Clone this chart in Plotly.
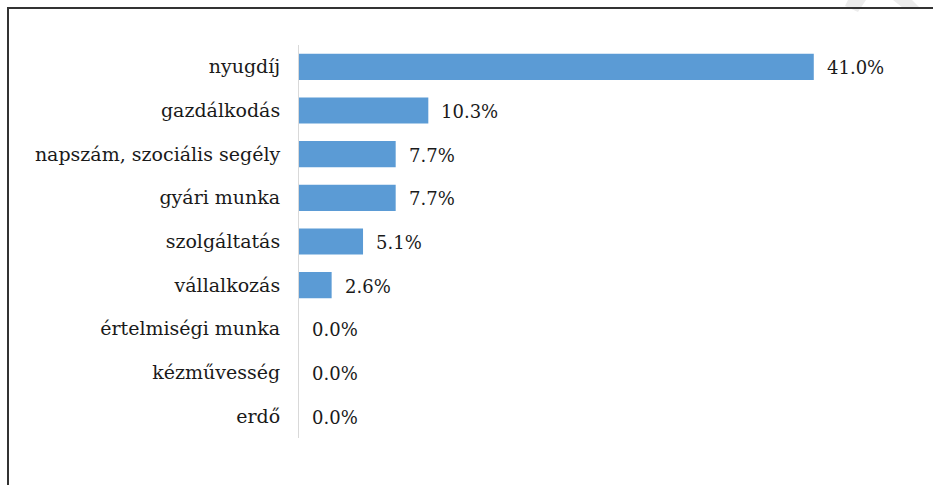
import plotly.graph_objects as go

# Income sources, top to bottom, with their shares (%)
categories = [
    "nyugdíj",
    "gazdálkodás",
    "napszám, szociális segély",
    "gyári munka",
    "szolgáltatás",
    "vállalkozás",
    "értelmiségi munka",
    "kézművesség",
    "erdő",
]
shares = [41.0, 10.3, 7.7, 7.7, 5.1, 2.6, 0.0, 0.0, 0.0]
value_labels = [f"{v:.1f}%" for v in shares]

FONT = "Georgia, 'DejaVu Serif', serif"
TEXT_COLOR = "#1a1a1a"
BAR_COLOR = "#5B9BD5"

W, H = 933, 485
M_L, M_R, M_T, M_B = 299, 69, 45, 47
PW, PH = W - M_L - M_R, H - M_T - M_B


def px_to_paper_x(px):
    return (px - M_L) / PW


def px_to_paper_y(py):
    return 1 - (py - M_T) / PH


fig = go.Figure(
    go.Bar(
        x=shares,
        y=categories,
        orientation="h",
        marker=dict(color=BAR_COLOR, line=dict(width=0)),
        width=0.6,
        hoverinfo="x+y",
    )
)

# value labels to the right of each bar
for cat, v, lab in zip(categories, shares, value_labels):
    fig.add_annotation(
        x=v, y=cat, text=lab, showarrow=False,
        xanchor="left", xshift=11, yshift=-1,
        font=dict(family=FONT, size=18, color=TEXT_COLOR),
    )

shapes = [
    # frame around the chart
    dict(type="rect", xref="paper", yref="paper",
         x0=px_to_paper_x(8), x1=px_to_paper_x(960),
         y0=px_to_paper_y(520), y1=px_to_paper_y(8),
         line=dict(color="#333333", width=2), fillcolor="rgba(0,0,0,0)", layer="above"),
    # faint watermark strokes in the top-right corner
    dict(type="path", xref="paper", yref="paper",
         path=(f"M {px_to_paper_x(848)} {px_to_paper_y(0)} L {px_to_paper_x(866)} {px_to_paper_y(0)} "
               f"L {px_to_paper_x(858)} {px_to_paper_y(12)} L {px_to_paper_x(845)} {px_to_paper_y(6)} Z"),
         fillcolor="#ececec", line=dict(width=0), layer="below"),
    dict(type="path", xref="paper", yref="paper",
         path=(f"M {px_to_paper_x(893)} {px_to_paper_y(0)} L {px_to_paper_x(912)} {px_to_paper_y(0)} "
               f"L {px_to_paper_x(920)} {px_to_paper_y(8)} L {px_to_paper_x(903)} {px_to_paper_y(8)} Z"),
         fillcolor="#ececec", line=dict(width=0), layer="below"),
]

fig.update_layout(
    width=W, height=H,
    margin=dict(l=M_L, r=M_R, t=M_T, b=M_B, pad=0),
    paper_bgcolor="white",
    plot_bgcolor="white",
    showlegend=False,
    font=dict(family=FONT, size=19, color=TEXT_COLOR),
    xaxis=dict(range=[0, 45], visible=False, fixedrange=True),
    yaxis=dict(
        autorange="reversed",
        showline=True, linecolor="#d9d9d9", linewidth=1,
        showgrid=False, zeroline=False,
        ticks="", ticklabelstandoff=14,
        tickfont=dict(family=FONT, size=19, color=TEXT_COLOR),
        fixedrange=True,
    ),
    shapes=shapes,
)

fig.write_html("out.html")
